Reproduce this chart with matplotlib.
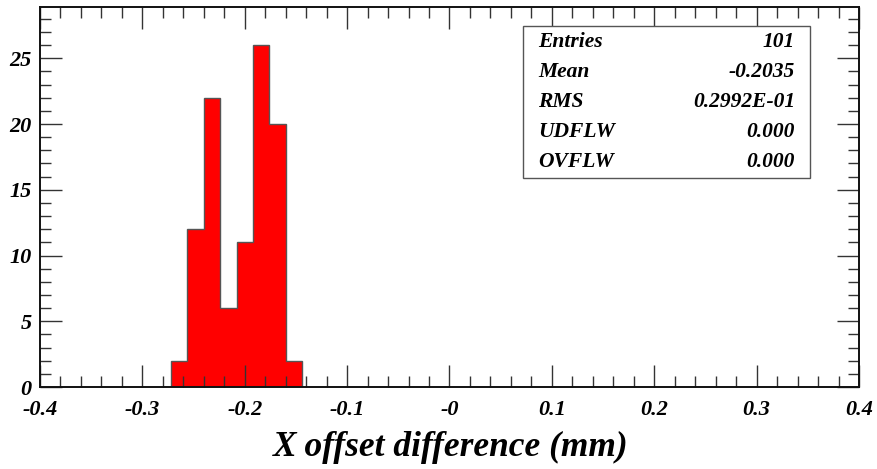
import numpy as np
import matplotlib
matplotlib.use('Agg')
import matplotlib.pyplot as plt
from matplotlib.ticker import MultipleLocator, FixedLocator, FixedFormatter

# histogram data (bin width 0.016 over -0.4..0.4)
bin_edges = [-0.272, -0.256, -0.240, -0.224, -0.208, -0.192, -0.176, -0.160, -0.144]
counts = [2, 12, 22, 6, 11, 26, 20, 2]

x_ticks = [-0.4, -0.3, -0.2, -0.1, 0.0, 0.1, 0.2, 0.3, 0.4]
x_labels = ['-0.4', '-0.3', '-0.2', '-0.1', '-0', '0.1', '0.2', '0.3', '0.4']
y_ticks = [0, 5, 10, 15, 20, 25]

stat_names = ['Entries', 'Mean', 'RMS', 'UDFLW', 'OVFLW']
stat_values = ['101', '-0.2035', '0.2992E-01', '0.000', '0.000']

plt.rcParams['font.family'] = ['Liberation Serif', 'DejaVu Serif']
W, H = 877, 469
fig = plt.figure(figsize=(W / 100, H / 100), dpi=100)
ax = fig.add_axes([40 / W, (H - 387) / H, (859 - 40) / W, (387 - 7) / H])

ax.stairs(counts, bin_edges, fill=True, facecolor='#ff0000', edgecolor='#555555', linewidth=1.0)

ax.set_xlim(-0.4, 0.4)
ax.set_ylim(0, 28.9)

ax.xaxis.set_major_locator(FixedLocator(x_ticks))
ax.xaxis.set_major_formatter(FixedFormatter(x_labels))
ax.xaxis.set_minor_locator(MultipleLocator(0.02))
ax.yaxis.set_major_locator(FixedLocator(y_ticks))
ax.yaxis.set_minor_locator(MultipleLocator(1))

ax.tick_params(which='both', direction='in', top=True, right=True, color='#333333', width=1.0)
ax.tick_params(which='major', length=16, pad=9)
ax.tick_params(which='minor', length=8)
ax.tick_params(axis='y', which='major', pad=6)
for lab in ax.get_xticklabels() + ax.get_yticklabels():
    lab.set_fontsize(16)
    lab.set_fontweight('bold')
    lab.set_fontstyle('italic')
for lab in ax.get_yticklabels():
    lab.set_verticalalignment('center_baseline')
for s in ax.spines.values():
    s.set_linewidth(1.4)
    s.set_color('#111111')

fig.text(451 / W, 1 - 447 / H, 'X offset difference (mm)', ha='center', va='center',
         fontsize=25.5, fontweight='bold', fontstyle='italic')

# stats box
box = plt.Rectangle((523 / W, 1 - 178 / H), (810 - 523) / W, (178 - 26) / H,
                    transform=fig.transFigure, facecolor='white', edgecolor='#555555', linewidth=1.0)
fig.add_artist(box)
for i, (n, v) in enumerate(zip(stat_names, stat_values)):
    y = 1 - (42 + 30 * i) / H
    fig.text(538 / W, y, n, ha='left', va='center', fontsize=15.5, fontweight='bold', fontstyle='italic')
    fig.text(795 / W, y, v, ha='right', va='center', fontsize=15.5, fontweight='bold', fontstyle='italic')

fig.savefig('out.png', dpi=100)
